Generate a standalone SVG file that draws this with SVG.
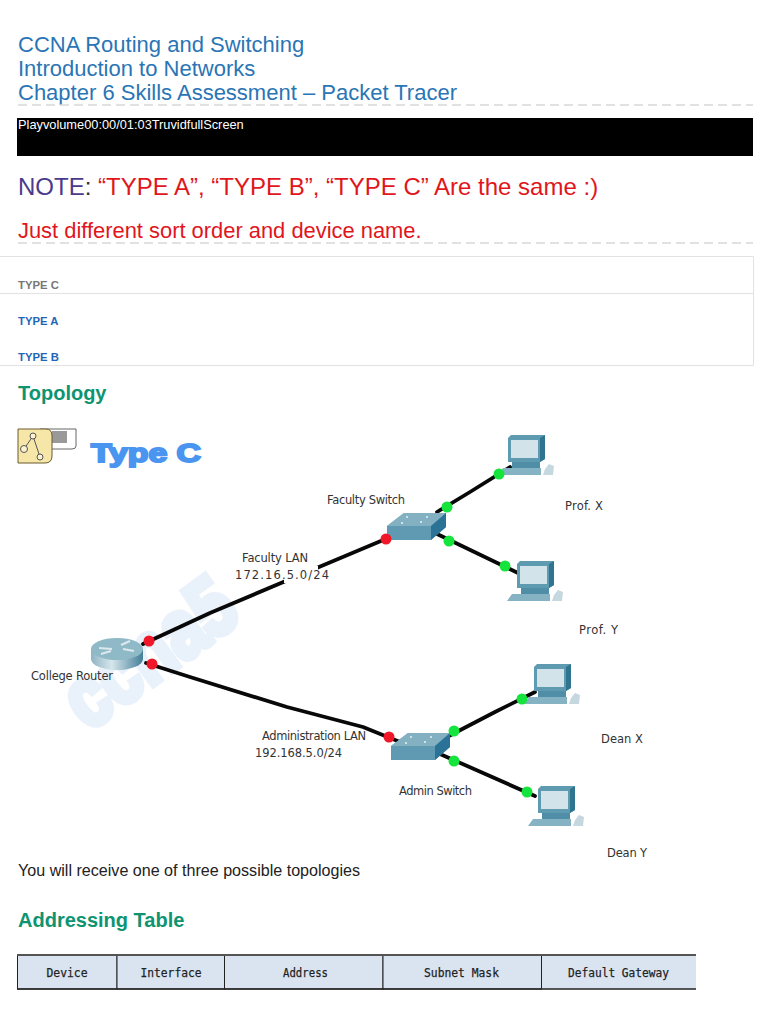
<svg xmlns="http://www.w3.org/2000/svg" width="768" height="1024" viewBox="0 0 768 1024">
<style>
text{font-family:"Liberation Sans",Arial,sans-serif}
.title{font-size:22px;fill:#2a75b5}
.red{fill:#e0161c}
.tab{font-size:11.300px;font-weight:700}
.h{font-size:20px;font-weight:700;fill:#0e9471}
.lbl{font-family:"DejaVu Sans",sans-serif;font-size:11.500px;fill:#333}
.th{font-family:"DejaVu Sans Mono",monospace;font-size:13px;fill:#222;stroke:#222;stroke-width:.25}
.dash{stroke:#d8d8d8;stroke-width:1.500;stroke-dasharray:9 5;fill:none}
.rule{stroke:#e2e2e2;stroke-width:1;fill:none}
.link{stroke:#080808;stroke-width:3.800;fill:none;stroke-linecap:round;stroke-linejoin:round}
.r{fill:#f01828}
.g{fill:#14e43c}
.cell{fill:#d9e4f0;stroke:#222;stroke-width:1}
</style>
<defs>
<linearGradient id="rg" x1="0" x2="1" y1="0" y2="0">
<stop offset="0" stop-color="#8fb4c2"/><stop offset=".4" stop-color="#d6e6ec"/><stop offset="1" stop-color="#447f98"/>
</linearGradient>
<g id="pc">
<path d="M-4 33H34V40H-9Z" fill="#86b3c4"/>
<rect x="5" y="26" width="28" height="7" fill="#4f8ea6"/>
<path d="M1 3 4 0H38V24L33 27H1Z" fill="#5e9bb0"/>
<path d="M33 3 38 0V24L33 27Z" fill="#2f7590"/>
<rect x="4" y="5" width="27" height="18" fill="#d3e3ea"/>
<path d="M36 40h10l1-9-5-2-4 5z" fill="#c5d8df"/>
</g>
<g id="sw">
<path d="M0 13 17 0H59V14L44 27H0Z" fill="#5f9ab2"/>
<path d="M0 13 17 0H59L44 13Z" fill="#84b1c2"/>
<path d="M44 13 59 0V14L44 27Z" fill="#2b7396"/>
<g fill="#e8f2f5"><circle cx="20" cy="4" r="1"/><circle cx="40" cy="4" r="1"/><circle cx="15" cy="10" r="1"/><circle cx="34" cy="9" r="1"/></g>
</g>
</defs>

<g id="header">
<text class="title" x="18" y="52">CCNA Routing and Switching</text>
<text class="title" x="18" y="76">Introduction to Networks</text>
<text class="title" x="18" y="100">Chapter 6 Skills Assessment – Packet Tracer</text>
<line class="dash" x1="18" y1="105" x2="753" y2="105"/>
</g>
<g id="player">
<rect x="17" y="118" width="736" height="38" fill="#000"/>
<text x="18" y="129" font-size="12.800" fill="#fff">Playvolume00:00/01:03TruvidfullScreen</text>
</g>
<g id="note">
<text x="18" y="195" font-size="24" class="red"><tspan fill="#4b3a8c">NOTE</tspan><tspan fill="#333">:</tspan> “TYPE A”, “TYPE B”, “TYPE C” Are the same :)</text>
<text x="18" y="238" font-size="21.900" class="red">Just different sort order and device name.</text>
<line class="dash" x1="18" y1="243" x2="753" y2="243"/>
</g>
<g id="tabs">
<path class="rule" d="M0 256.500H753.500V365.500H0M0 293.500H753.500"/>
<text class="tab" x="18" y="289" fill="#777">TYPE C</text>
<text class="tab" x="18" y="325" fill="#1f66b8">TYPE A</text>
<text class="tab" x="18" y="361" fill="#1f66b8">TYPE B</text>
</g>
<text class="h" x="18" y="400">Topology</text>

<g id="topology-icon">
<path d="M40 429H76V446Q76 449 72 449H40Z" fill="#fff" stroke="#666" stroke-width="1"/>
<rect x="52" y="431" width="15" height="12" fill="#999"/>
<path d="M18 429H46Q52 429 52 436V456Q52 463 45 463H18Z" fill="#f6e6a8" stroke="#6b5a2a" stroke-width="1"/>
<path d="M33 436 24 449M33 436 40 457" stroke="#555" fill="none"/>
<g fill="#fbf3cf" stroke="#555"><circle cx="33" cy="436" r="3"/><circle cx="24" cy="449" r="3.500"/><circle cx="40" cy="457" r="3"/></g>
</g>
<text id="type-c" x="91" y="462" font-family="DejaVu Serif,serif" font-size="26" font-weight="700" fill="#4a95ef" stroke="#4a95ef" stroke-width="2" textLength="110" lengthAdjust="spacingAndGlyphs">Type C</text>

<text id="watermark" x="0" y="0" transform="translate(88 732) rotate(-36)" font-size="84" font-weight="700" fill="#e9f1fb" stroke="#e9f1fb" stroke-width="7" textLength="192" lengthAdjust="spacingAndGlyphs">ccna5</text>

<g id="connectors">
<path class="link" d="M143 644 210 613 300 575 388 538"/>
<path class="link" d="M146 663 190 677 287 707 363 727 400 742"/>
<path class="link" d="M437 512 470 492 510 467"/>
<path class="link" d="M435 533 518 573"/>
<path class="link" d="M445 738 495 712 535 692"/>
<path class="link" d="M440 754 535 796"/>
</g>

<g id="college-router">
<ellipse cx="117" cy="659" rx="26" ry="11" fill="url(#rg)"/>
<rect x="91" y="649" width="52" height="10" fill="url(#rg)"/>
<ellipse cx="117" cy="649" rx="26" ry="11" fill="#8fb9c6"/>
<path d="M99 648l13 1M101 654l10-3M121 645l9-4M123 649l11 2" stroke="#dbe9ee" stroke-width="2.200" fill="none"/>
<text class="lbl" x="31" y="680" textLength="82">College Router</text>
</g>
<g id="faculty-switch"><use href="#sw" x="387" y="513"/><text class="lbl" x="327" y="504" textLength="78">Faculty Switch</text></g>
<g id="admin-switch"><use href="#sw" x="391" y="733"/><text class="lbl" x="399" y="795" textLength="73">Admin Switch</text></g>
<g id="prof-x"><use href="#pc" x="507" y="435"/><text class="lbl" x="565" y="510" textLength="38">Prof. X</text></g>
<g id="prof-y"><use href="#pc" x="516" y="561"/><text class="lbl" x="579" y="634" textLength="39">Prof. Y</text></g>
<g id="dean-x"><use href="#pc" x="533" y="664"/><text class="lbl" x="601" y="743" textLength="42">Dean X</text></g>
<g id="dean-y"><use href="#pc" x="537" y="786"/><text class="lbl" x="607" y="857" textLength="40">Dean Y</text></g>

<g id="ports">
<circle class="r" cx="149" cy="641" r="5.500"/><circle class="r" cx="152" cy="664" r="5.500"/>
<circle class="r" cx="386" cy="539" r="5.500"/><circle class="r" cx="389" cy="737" r="5.500"/>
<circle class="g" cx="447" cy="507" r="5.500"/><circle class="g" cx="499" cy="474" r="5.500"/>
<circle class="g" cx="449" cy="541" r="5.500"/><circle class="g" cx="505" cy="566" r="5.500"/>
<circle class="g" cx="454" cy="731" r="5.500"/><circle class="g" cx="522" cy="699" r="5.500"/>
<circle class="g" cx="454" cy="761" r="5.500"/><circle class="g" cx="527" cy="792" r="5.500"/>
</g>
<g id="link-labels">
<rect x="284" y="566" width="34" height="17" fill="#fff"/>
<text class="lbl" x="242" y="562" textLength="66">Faculty LAN</text>
<text class="lbl" x="235" y="579" textLength="94">172.16.5.0/24</text>
<text class="lbl" x="262" y="740" textLength="104">Administration LAN</text>
<text class="lbl" x="255" y="757" textLength="87">192.168.5.0/24</text>
</g>

<text x="18" y="876" font-size="16.100" fill="#222">You will receive one of three possible topologies</text>
<text class="h" x="18" y="927">Addressing Table</text>

<g id="addressing-table">
<rect class="cell" x="17.500" y="955.500" width="99.500" height="33.500"/>
<rect class="cell" x="117" y="955.500" width="107.500" height="33.500"/>
<rect class="cell" x="224.500" y="955.500" width="158.500" height="33.500"/>
<rect class="cell" x="383" y="955.500" width="158.500" height="33.500"/>
<path d="M541.500 955.500H696V989H541.500Z" fill="#d9e4f0"/>
<path d="M541.500 955.500V989" stroke="#222" fill="none"/>
<path d="M17 955H696" stroke="#555" stroke-width="2" fill="none"/>
<path d="M17 989H696" stroke="#222" stroke-width="1.500" fill="none"/>
<text class="th" x="46.500" y="977" textLength="41" lengthAdjust="spacingAndGlyphs">Device</text>
<text class="th" x="140.500" y="977" textLength="61" lengthAdjust="spacingAndGlyphs">Interface</text>
<text class="th" x="283" y="977" textLength="45" lengthAdjust="spacingAndGlyphs">Address</text>
<text class="th" x="424" y="977" textLength="75" lengthAdjust="spacingAndGlyphs">Subnet Mask</text>
<text class="th" x="568" y="977" textLength="101" lengthAdjust="spacingAndGlyphs">Default Gateway</text>
</g>
</svg>
